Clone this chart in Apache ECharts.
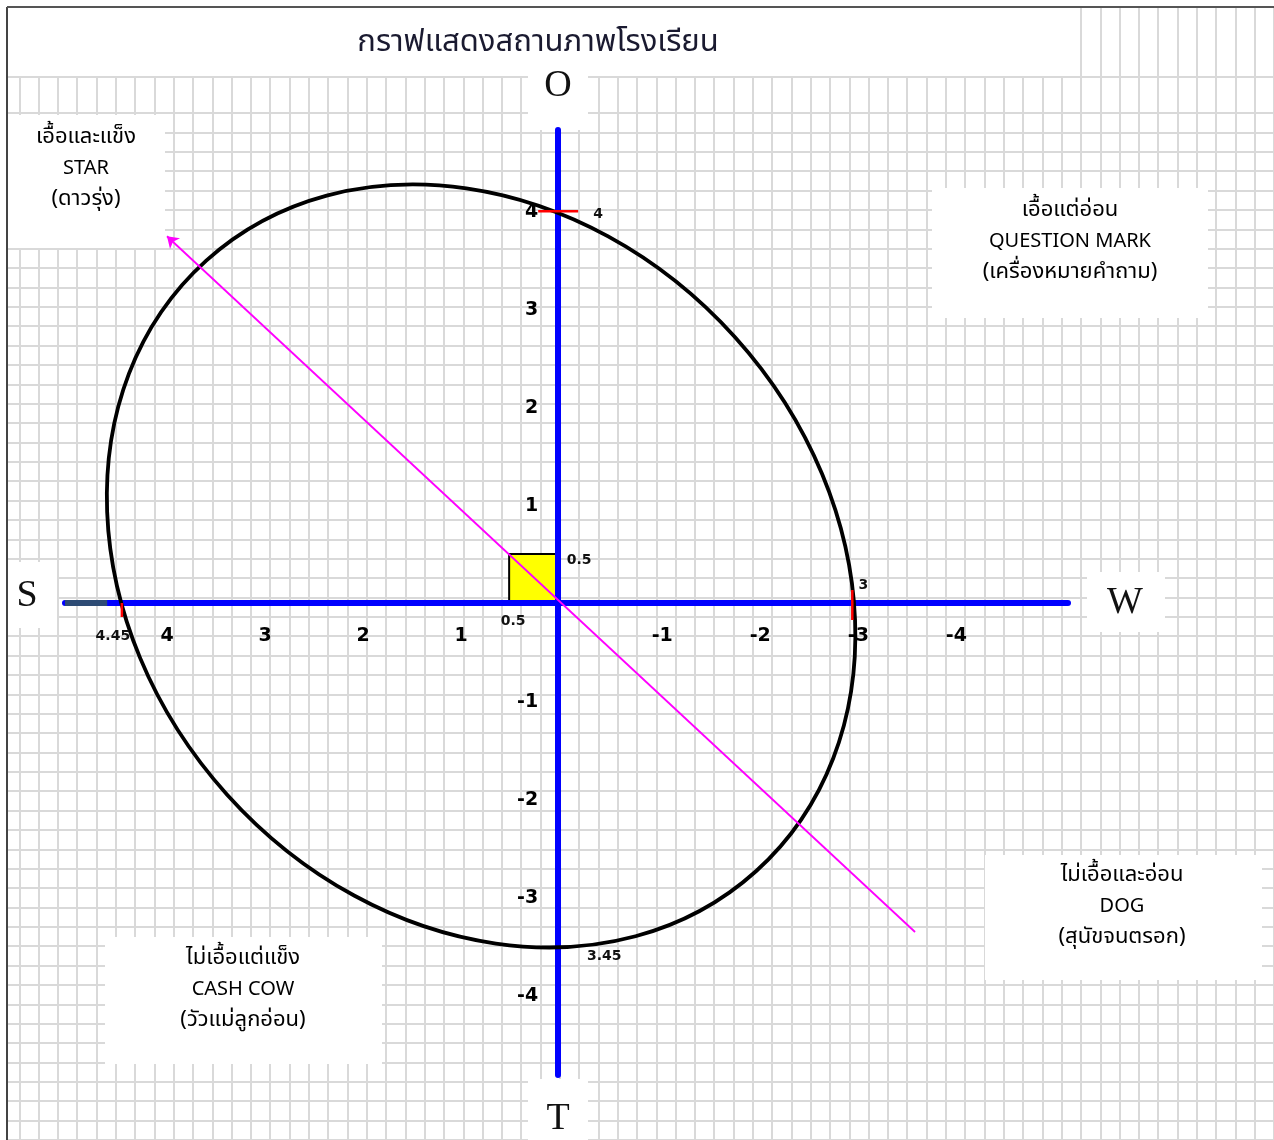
<!DOCTYPE html>
<html><head><meta charset="utf-8">
<script src="https://cdn.jsdelivr.net/npm/echarts@6/dist/echarts.min.js"></script>
<style>html,body{margin:0;padding:0;background:#fff}#c{width:1274px;height:1140px}</style>
</head><body><div id="c"></div>
<script>
// ---------- data ----------
const chartTitle = 'กราฟแสดงสถานภาพโรงเรียน';
const xTicks = [4, 3, 2, 1, -1, -2, -3, -4];
const yTicks = [4, 3, 2, 1, -1, -2, -3, -4];
const xRange = [-5.2, 5.03];
const yRange = [-4.82, 4.83];
const axisNames = { top: 'O', left: 'S', right: 'W', bottom: 'T' };
const starLabel = ['เอื้อและแข็ง', 'STAR', '(ดาวรุ่ง)'];
const questionLabel = ['เอื้อแต่อ่อน', 'QUESTION MARK', '(เครื่องหมายคำถาม)'];
const cashCowLabel = ['ไม่เอื้อแต่แข็ง', 'CASH COW', '(วัวแม่ลูกอ่อน)'];
const dogLabel = ['ไม่เอื้อและอ่อน', 'DOG', '(สุนัขจนตรอก)'];
// ellipse: centre x, centre y, semi-axis 1, semi-axis 2, tilt (deg)
const ellipseShape = [0.786, 0.378, 4.19, 3.49, -48];
const squareCorner = [0.5, 0.5];
const arrowFrom = [-3.64, -3.36];
const arrowTo = [3.99, 3.745];
const darkSegment = [[5.03, 0], [4.6, 0]];
const tickPoints = [[0, 4], [-3, 0], [4.45, 0]];
const valuePoints = [[0, 4, '4'], [-3, 0, '3'], [0, -3.45, '3.45'], [4.45, 0, '4.45'], [0, 0.5, '0.5'], [0.5, 0, '0.5']];

// ---------- styles / layout ----------
const CELL = 19.6, OX = 558, OY = 603;
const gridColor = '#d9d9d9';
const numFont = 'DejaVu Sans';
const thaiFont = '"Noto Sans Thai","Noto Sans","DejaVu Sans",sans-serif';
const tickStyles = [
  { symbolSize: [40, 2.5], symbolOffset: [0, 0] },
  { symbolSize: [2.5, 30], symbolOffset: [0, 2] },
  { symbolSize: [2.5, 14], symbolOffset: [0, 7] }
];
const valueOffsets = [[40, 3], [11, -18], [46, 16], [-9, 33], [21, 6], [4, 18]];
const tickLabelStyle = { fontSize: 19, fontWeight: 'bold', color: '#000', fontFamily: numFont, textBorderWidth: 0, opacity: 1 };

const chart = echarts.init(document.getElementById('c'), null, { renderer: 'canvas' });

function bgX(gi) {
  return { gridIndex: gi, type: 'value', min: -29, max: 37, interval: 1, z: 0,
    axisLine: { show: false }, axisTick: { show: false }, axisLabel: { show: false },
    splitLine: { show: true, lineStyle: { color: gridColor, width: 2 } } };
}
function patch(x, y, w, h) {
  return { type: 'rect', z: 1, silent: true, shape: { x, y, width: w, height: h }, style: { fill: '#fff' } };
}
function block(lines, x, yMid) {
  return { type: 'text', z: 10, silent: true, style: {
    text: '{t|' + lines[0] + '}\n{e|' + lines[1] + '}\n{t|' + lines[2] + '}',
    x, y: yMid, align: 'center', verticalAlign: 'middle',
    rich: {
      t: { fontSize: 22, fontFamily: thaiFont, color: '#222', lineHeight: 31, align: 'center' },
      e: { fontSize: 20, fontFamily: thaiFont, color: '#222', lineHeight: 31, align: 'center' }
    } } };
}
function bigLetter(t, x, y) {
  return { type: 'text', z: 10, silent: true, style: { text: t, x, y, align: 'center', verticalAlign: 'middle',
    font: '38px "Liberation Serif", serif', fill: '#111' } };
}

const option = {
  animation: false,
  backgroundColor: '#fff',
  grid: [
    { left: 65, right: 1274 - 1068, top: 130, bottom: 1140 - 1075 },
    { left: OX - 29 * CELL, right: 1274 - (OX + 37 * CELL), top: OY - 25 * CELL, bottom: 1140 - (OY + 28 * CELL) },
    { left: OX - 29 * CELL, right: 1274 - (OX + 37 * CELL), top: 7, height: OY - 25 * CELL - 7 }
  ],
  xAxis: [
    { gridIndex: 0, type: 'value', inverse: true, min: xRange[0], max: xRange[1], z: 3,
      axisLine: { onZero: true, lineStyle: { color: '#0000ff', width: 6 } },
      axisTick: { show: false }, splitLine: { show: false }, axisLabel: { show: false } },
    bgX(1), bgX(2)
  ],
  yAxis: [
    { gridIndex: 0, type: 'value', min: yRange[0], max: yRange[1], z: 3,
      axisLine: { onZero: true, lineStyle: { color: '#0000ff', width: 6 } },
      axisTick: { show: false }, splitLine: { show: false }, axisLabel: { show: false } },
    { gridIndex: 1, type: 'value', min: -28, max: 25, interval: 1, z: 0,
      axisLine: { show: false }, axisTick: { show: false }, axisLabel: { show: false },
      splitLine: { show: true, lineStyle: { color: gridColor, width: 2 } } },
    { gridIndex: 2, type: 'value', min: 0, max: 1, z: 0, show: false, splitLine: { show: false } }
  ],
  graphic: { elements: [
    patch(0, 0, 7, 1140), patch(0, 0, 1274, 7),
    patch(8, 8, 1067, 68),
    { type: 'line', z: 1, silent: true, shape: { x1: 8, y1: 77, x2: 1274, y2: 77 }, style: { stroke: gridColor, lineWidth: 2 } },
    patch(8, 115, 157, 133),
    patch(932, 188, 276, 130),
    patch(105, 937, 277, 127),
    patch(985, 855, 277, 125),
    patch(528, 70, 60, 60),
    patch(528, 1079, 60, 61),
    patch(8, 562, 49, 66),
    patch(1087, 572, 78, 60),
    { type: 'line', z: 11, silent: true, shape: { x1: 7, y1: 7, x2: 7, y2: 1140 }, style: { stroke: '#444', lineWidth: 2 } },
    { type: 'line', z: 11, silent: true, shape: { x1: 7, y1: 7, x2: 1274, y2: 7 }, style: { stroke: '#555', lineWidth: 2 } },
    { type: 'text', z: 10, silent: true, style: { text: chartTitle, x: 538, y: 45, align: 'center', verticalAlign: 'middle',
      font: '31px ' + thaiFont, fill: '#1a1a30' } },
    bigLetter(axisNames.top, 558, 86), bigLetter(axisNames.bottom, 558, 1119),
    bigLetter(axisNames.left, 27, 596), bigLetter(axisNames.right, 1125, 603),
    block(starLabel, 86, 170),
    block(questionLabel, 1070, 243),
    block(dogLabel, 1122, 908),
    block(cashCowLabel, 243, 991)
  ] },
  series: [
    { type: 'custom', name: 'square', xAxisIndex: 0, yAxisIndex: 0, z: 2, silent: true, data: [squareCorner],
      renderItem: (p, api) => {
        const a = api.coord([0, 0]), b = api.coord([api.value(0), api.value(1)]);
        return { type: 'rect', shape: { x: Math.min(a[0], b[0]), y: Math.min(a[1], b[1]), width: Math.abs(a[0] - b[0]), height: Math.abs(a[1] - b[1]) },
          style: { fill: '#ffff00', stroke: '#000', lineWidth: 2 } };
      } },
    { type: 'lines', name: 'dark', coordinateSystem: 'cartesian2d', xAxisIndex: 0, yAxisIndex: 0, z: 4, silent: true,
      symbol: 'none', lineStyle: { color: '#2d4b74', width: 6, opacity: 1 }, data: [{ coords: darkSegment }] },
    { type: 'custom', name: 'ellipse', xAxisIndex: 0, yAxisIndex: 0, z: 4, silent: true, data: [ellipseShape],
      renderItem: (p, api) => {
        const c = api.coord([api.value(0), api.value(1)]);
        const s = api.size([api.value(2), api.value(3)]);
        return { type: 'ellipse', shape: { cx: c[0], cy: c[1], rx: s[0], ry: s[1] }, originX: c[0], originY: c[1],
          rotation: api.value(4) * Math.PI / 180, style: { fill: 'none', stroke: '#000', lineWidth: 3.8 } };
      } },
    { type: 'scatter', name: 'ticks', xAxisIndex: 0, yAxisIndex: 0, z: 5, silent: true, symbol: 'rect',
      itemStyle: { color: '#ff0000', opacity: 1 },
      data: tickPoints.map((p, i) => Object.assign({ value: p }, tickStyles[i])) },
    { type: 'lines', name: 'arrow', coordinateSystem: 'cartesian2d', xAxisIndex: 0, yAxisIndex: 0, z: 6, silent: true,
      symbol: ['none', 'arrow'], symbolSize: 11, lineStyle: { color: '#ff00ff', width: 1.8, opacity: 1 },
      data: [{ coords: [arrowFrom, arrowTo] }] },
    { type: 'scatter', name: 'values', xAxisIndex: 0, yAxisIndex: 0, z: 7, silent: true, symbolSize: 0,
      itemStyle: { color: '#000', opacity: 1 },
      label: { show: true, position: 'inside', formatter: (p) => p.value[2], fontSize: 14, fontWeight: 'bold',
        color: '#111', fontFamily: numFont, textBorderWidth: 0, opacity: 1 },
      data: valuePoints.map((p, i) => ({ value: p, label: { offset: valueOffsets[i] } })) },
    { type: 'scatter', name: 'xTickLabels', xAxisIndex: 0, yAxisIndex: 0, z: 7, silent: true, symbolSize: 0,
      itemStyle: { color: '#000', opacity: 1 },
      label: Object.assign({ show: true, position: 'inside', formatter: (p) => String(p.value[0]) }, tickLabelStyle),
      data: xTicks.map(v => ({ value: [v, 0], label: { offset: [v < 0 ? 6 : 1, 33] } })) },
    { type: 'scatter', name: 'yTickLabels', xAxisIndex: 0, yAxisIndex: 0, z: 7, silent: true, symbolSize: 0,
      itemStyle: { color: '#000', opacity: 1 },
      label: Object.assign({ show: true, position: 'inside', align: 'right', formatter: (p) => String(p.value[1]) }, tickLabelStyle),
      data: yTicks.map(v => ({ value: [0, v], label: { offset: [-20, 1] } })) }
  ]
};
chart.setOption(option);
</script>
</body></html>
